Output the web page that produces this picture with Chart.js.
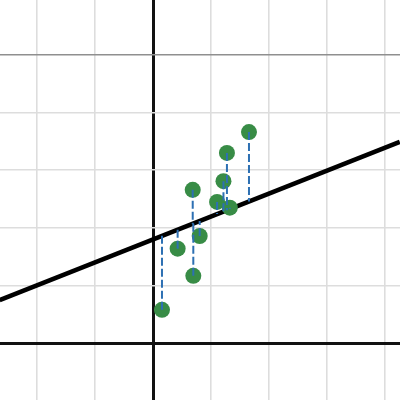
<!DOCTYPE html>
<html>
<head>
<meta charset="utf-8">
<script src="https://cdn.jsdelivr.net/npm/chart.js@4/dist/chart.umd.min.js"></script>
<style>
html,body{margin:0;padding:0;background:#fff;}
#c{display:block;}
</style>
</head>
<body>
<canvas id="c" width="400" height="400"></canvas>
<script>
// Data points (x, y), in grid units
const pointsX = [1.65, 1.27, 1.21, 0.68, 1.10, 1.32, 0.80, 0.42, 0.69, 0.15];
const pointsY = [3.66, 3.30, 2.81, 2.66, 2.45, 2.35, 1.86, 1.64, 1.17, 0.58];
// Model line endpoints
const lineX = [-2.65, 4.25];
const lineY = [0.75, 3.49];
// View window and grid
const xRange = [-2.643, 4.254];
const yRange = [-0.983, 5.950];
const darkGridY = 5;

const slope = (lineY[1] - lineY[0]) / (lineX[1] - lineX[0]);
const intercept = lineY[0] - slope * lineX[0];

const pts = pointsX.map((x, i) => ({x: x, y: pointsY[i]}));
const modelLine = lineX.map((x, i) => ({x: x, y: lineY[i]}));
const residuals = [];
pointsX.forEach((x, i) => {
  residuals.push({x: x, y: pointsY[i]});
  residuals.push({x: x, y: intercept + slope * x});
  residuals.push({x: x, y: null});
});

function gridColor(ctx, isY) {
  const v = ctx.tick ? ctx.tick.value : null;
  if (v === 0) return '#111111';
  if (isY && v === darkGridY) return '#8f8f8f';
  return '#dddddd';
}
function gridWidth(ctx, isY) {
  const v = ctx.tick ? ctx.tick.value : null;
  if (v === 0) return 3;
  return 1.6;
}

new Chart(document.getElementById('c'), {
  type: 'scatter',
  data: {
    datasets: [
      {
        data: residuals,
        showLine: true,
        spanGaps: false,
        borderColor: '#2d70b3',
        borderWidth: 2,
        borderDash: [8, 3],
        pointRadius: 0,
        order: 1
      },
      {
        data: pts,
        backgroundColor: '#388c46',
        borderWidth: 0,
        pointRadius: 8,
        pointHoverRadius: 8,
        order: 2
      },
      {
        data: modelLine,
        showLine: true,
        borderColor: '#000000',
        borderWidth: 4.6,
        pointRadius: 0,
        order: 3
      }
    ]
  },
  options: {
    responsive: false,
    animation: false,
    layout: {padding: 0, autoPadding: false},
    plugins: {legend: {display: false}, tooltip: {enabled: false}},
    scales: {
      x: {
        type: 'linear',
        min: xRange[0], max: xRange[1],
        border: {display: false},
        ticks: {display: false, stepSize: 1, includeBounds: false, padding: 0},
        grid: {drawTicks: false, tickLength: 0, color: c => gridColor(c, false), lineWidth: c => gridWidth(c, false)}
      },
      y: {
        type: 'linear',
        min: yRange[0], max: yRange[1],
        border: {display: false},
        ticks: {display: false, stepSize: 1, includeBounds: false, padding: 0},
        grid: {drawTicks: false, tickLength: 0, color: c => gridColor(c, true), lineWidth: c => gridWidth(c, true)}
      }
    }
  }
});
</script>
</body>
</html>
